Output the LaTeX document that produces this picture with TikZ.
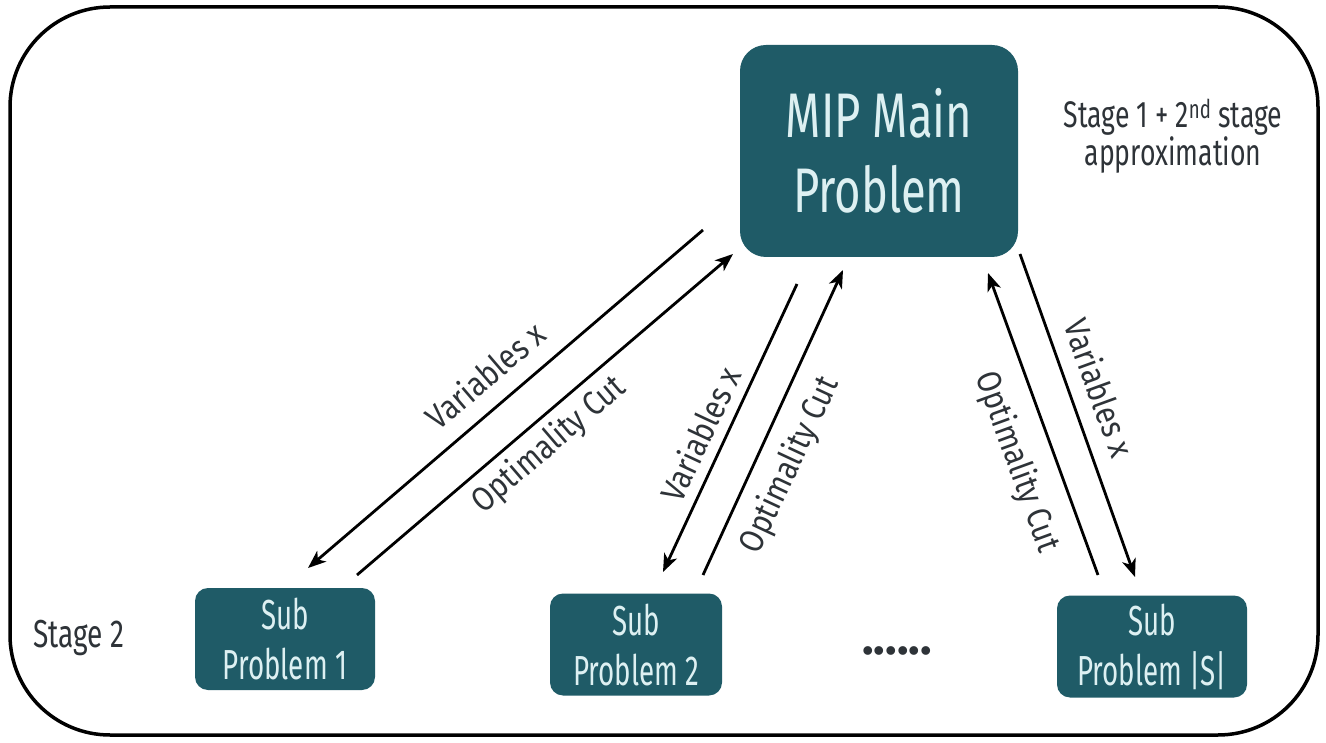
\documentclass[tikz,border=0pt]{standalone}
\usepackage{fontspec}
\setmainfont{Fira Sans}
\newfontfamily\condfont{Fira Sans}[FakeStretch=0.72]
\newfontfamily\subfont{Fira Sans}[FakeStretch=0.66]
\newfontfamily\labfont{Fira Sans}[FakeStretch=0.86]
\usetikzlibrary{arrows.meta}
\definecolor{tealbox}{HTML}{1F5B67}
\definecolor{boxtxt}{HTML}{DDF0F2}
\definecolor{labtxt}{HTML}{2E3338}
\begin{document}
\begin{tikzpicture}[x=1pt,y=-1pt,
  frame/.style={line width=3.5pt, rounded corners=100pt},
  mainbox/.style={fill=tealbox, rounded corners=26pt, text=boxtxt, align=center,
    minimum width=278pt, minimum height=212pt, inner sep=0pt,
    font=\condfont\fontsize{63}{75}\selectfont},
  subbox/.style={fill=tealbox, rounded corners=13pt, text=boxtxt, align=center,
    minimum height=102pt, inner sep=0pt, font=\subfont\fontsize{42}{50}\selectfont},
  side/.style={text=labtxt, align=center, inner sep=0pt},
  lab/.style={text=labtxt, font=\labfont\fontsize{34}{36}\selectfont, inner sep=0pt},
  conn/.style={line width=2.8pt, draw=black, -{Stealth[length=18pt,width=14pt,inset=5pt]}}
]
\useasboundingbox (0,0) rectangle (1326,743);
\draw[frame] (10,7) rectangle (1318,735);

\node[mainbox] (main) at (879,151) {MIP Main\\Problem};
\node[subbox, minimum width=180pt] (s1) at (285,639) {Sub\\Problem 1};
\node[subbox, minimum width=172pt] (s2) at (636,644.5) {Sub\\Problem 2};
\node[subbox, minimum width=190pt] (sS) at (1152,646.5) {Sub\\Problem |S|};

\node[side, font=\condfont\fontsize{39}{44}\selectfont] (st2) at (79,638) {Stage 2};
\node[side, font=\condfont\fontsize{37}{36}\selectfont] (st1) at (1173,136)
  {Stage 1 + 2\textsuperscript{nd} stage\\approximation};
\node[side, font=\fontsize{48}{48}\selectfont\bfseries] (dots) at (897,651) {......};

\coordinate (a1) at (703,230); \coordinate (a2) at (308,568);
\coordinate (b1) at (357,575); \coordinate (b2) at (733,254);
\coordinate (c1) at (797,284); \coordinate (c2) at (663,572);
\coordinate (d1) at (703,575); \coordinate (d2) at (843,270);
\coordinate (e1) at (1098,575); \coordinate (e2) at (988,273);
\coordinate (f1) at (1020,254); \coordinate (f2) at (1135,577);

\draw[conn] (a1) -- (a2);
\draw[conn] (b1) -- (b2);
\draw[conn] (c1) -- (c2);
\draw[conn] (d1) -- (d2);
\draw[conn] (e1) -- (e2);
\draw[conn] (f1) -- (f2);

\node[lab, rotate=40.6] (lv1) at (485,375) {Variables x};
\node[lab, rotate=40.6] (lo1) at (549,445) {Optimality Cut};
\node[lab, rotate=65] (lv2) at (700,434) {Variables x};
\node[lab, rotate=65] (lo2) at (790,465) {Optimality Cut};
\node[lab, rotate=-70] (lo3) at (1017,462) {Optimality Cut};
\node[lab, rotate=-70] (lv3) at (1100,388) {Variables x};
\end{tikzpicture}
\end{document}
